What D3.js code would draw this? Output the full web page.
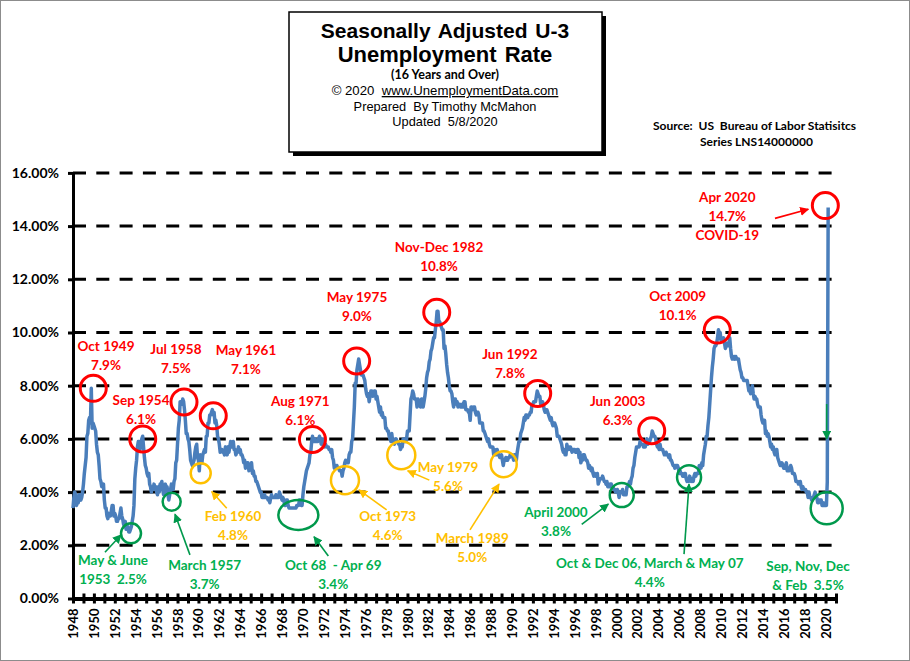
<!DOCTYPE html>
<html><head><meta charset="utf-8">
<script src="https://cdn.jsdelivr.net/npm/d3@7"></script>
<style>
body{margin:0;background:#fff}
svg{display:block}
text{white-space:pre}
</style></head><body>
<svg id="chart" width="910" height="661"></svg>
<script>
// ---------------- DATA ----------------
const startYear = 1948;
// Seasonally adjusted U-3 unemployment rate, monthly (Jan..Dec), 1948 - Apr 2020
const rates = [
[3.4,3.8,4.0,3.9,3.5,3.6,3.6,3.9,3.8,3.7,3.8,4.0],
[4.3,4.7,5.0,5.3,6.1,6.2,6.7,6.8,6.6,7.9,6.4,6.6],
[6.5,6.4,6.3,5.8,5.5,5.4,5.0,4.5,4.4,4.2,4.2,4.3],
[3.7,3.4,3.4,3.1,3.0,3.2,3.1,3.1,3.3,3.5,3.5,3.1],
[3.2,3.1,2.9,2.9,3.0,3.0,3.2,3.4,3.1,3.0,2.8,2.7],
[2.9,2.6,2.6,2.7,2.5,2.5,2.6,2.7,2.9,3.1,3.5,4.5],
[4.9,5.2,5.7,5.9,5.9,5.6,5.8,6.0,6.1,5.7,5.3,5.0],
[4.9,4.7,4.6,4.7,4.3,4.2,4.0,4.2,4.1,4.3,4.2,4.2],
[4.0,3.9,4.2,4.0,4.3,4.3,4.4,4.1,3.9,3.9,4.3,4.2],
[4.2,3.9,3.7,3.9,4.1,4.3,4.2,4.1,4.4,4.5,5.1,5.2],
[5.8,6.4,6.7,7.4,7.4,7.3,7.5,7.4,7.1,6.7,6.2,6.2],
[6.0,5.9,5.6,5.2,5.1,5.0,5.1,5.2,5.5,5.7,5.8,5.3],
[5.2,4.8,5.4,5.2,5.1,5.4,5.5,5.6,5.5,6.1,6.1,6.6],
[6.6,6.9,6.9,7.0,7.1,6.9,7.0,6.6,6.7,6.5,6.1,6.0],
[5.8,5.5,5.6,5.6,5.5,5.5,5.4,5.7,5.6,5.4,5.7,5.5],
[5.7,5.9,5.7,5.7,5.9,5.6,5.6,5.4,5.5,5.5,5.7,5.5],
[5.6,5.4,5.4,5.3,5.1,5.2,4.9,5.0,5.1,5.1,4.8,5.0],
[4.9,5.1,4.7,4.8,4.6,4.6,4.4,4.4,4.3,4.2,4.1,4.0],
[4.0,3.8,3.8,3.8,3.9,3.8,3.8,3.8,3.7,3.7,3.6,3.8],
[3.9,3.8,3.8,3.8,3.8,3.9,3.8,3.8,3.8,4.0,3.9,3.8],
[3.7,3.8,3.7,3.5,3.5,3.7,3.7,3.5,3.4,3.4,3.4,3.4],
[3.4,3.4,3.4,3.4,3.4,3.5,3.5,3.5,3.7,3.7,3.5,3.5],
[3.9,4.2,4.4,4.6,4.8,4.9,5.0,5.1,5.4,5.5,5.9,6.1],
[5.9,5.9,6.0,5.9,5.9,5.9,6.0,6.1,6.0,5.8,6.0,6.0],
[5.8,5.7,5.8,5.7,5.7,5.7,5.6,5.6,5.5,5.6,5.3,5.2],
[4.9,5.0,4.9,5.0,4.9,4.9,4.8,4.8,4.8,4.6,4.8,4.9],
[5.1,5.2,5.1,5.1,5.1,5.4,5.5,5.5,5.9,6.0,6.6,7.2],
[8.1,8.1,8.6,8.8,9.0,8.8,8.6,8.4,8.4,8.4,8.3,8.2],
[7.9,7.7,7.6,7.7,7.4,7.6,7.8,7.8,7.6,7.7,7.8,7.8],
[7.5,7.6,7.4,7.2,7.0,7.2,6.9,7.0,6.8,6.8,6.8,6.4],
[6.4,6.3,6.3,6.1,6.0,5.9,6.2,5.9,6.0,5.8,5.9,6.0],
[5.9,5.9,5.8,5.8,5.6,5.7,5.7,6.0,5.9,6.0,5.9,6.0],
[6.3,6.3,6.3,6.9,7.5,7.6,7.8,7.7,7.5,7.5,7.5,7.2],
[7.5,7.4,7.4,7.2,7.5,7.5,7.2,7.4,7.6,7.9,8.3,8.5],
[8.6,8.9,9.0,9.3,9.4,9.6,9.8,9.8,10.1,10.4,10.8,10.8],
[10.4,10.4,10.3,10.2,10.1,10.1,9.4,9.5,9.2,8.8,8.5,8.3],
[8.0,7.8,7.8,7.7,7.4,7.2,7.5,7.5,7.3,7.4,7.2,7.3],
[7.3,7.2,7.2,7.3,7.2,7.4,7.4,7.1,7.1,7.1,7.0,7.0],
[6.7,7.2,7.2,7.1,7.2,7.2,7.0,6.9,7.0,7.0,6.9,6.6],
[6.6,6.6,6.6,6.3,6.3,6.2,6.1,6.0,5.9,6.0,5.8,5.7],
[5.7,5.7,5.7,5.4,5.6,5.4,5.4,5.6,5.4,5.4,5.3,5.3],
[5.4,5.2,5.0,5.2,5.2,5.3,5.2,5.2,5.3,5.3,5.4,5.4],
[5.4,5.3,5.2,5.4,5.4,5.2,5.5,5.7,5.9,5.9,6.2,6.3],
[6.4,6.6,6.8,6.7,6.9,6.9,6.8,6.9,6.9,7.0,7.0,7.3],
[7.3,7.4,7.4,7.4,7.6,7.8,7.7,7.6,7.6,7.3,7.4,7.4],
[7.3,7.1,7.0,7.1,7.1,7.0,6.9,6.8,6.7,6.8,6.6,6.5],
[6.6,6.6,6.5,6.4,6.1,6.1,6.1,6.0,5.9,5.8,5.6,5.5],
[5.6,5.4,5.4,5.8,5.6,5.6,5.7,5.7,5.6,5.5,5.6,5.6],
[5.6,5.5,5.5,5.6,5.6,5.3,5.5,5.1,5.2,5.2,5.4,5.4],
[5.3,5.2,5.2,5.1,4.9,5.0,4.9,4.8,4.9,4.7,4.6,4.7],
[4.6,4.6,4.7,4.3,4.4,4.5,4.5,4.5,4.6,4.5,4.4,4.4],
[4.3,4.4,4.2,4.3,4.2,4.3,4.3,4.2,4.2,4.1,4.1,4.0],
[4.0,4.1,4.0,3.8,4.0,4.0,4.0,4.1,3.9,3.9,3.9,3.9],
[4.2,4.2,4.3,4.4,4.3,4.5,4.6,4.9,5.0,5.3,5.5,5.7],
[5.7,5.7,5.7,5.9,5.8,5.8,5.8,5.7,5.7,5.7,5.9,6.0],
[5.8,5.9,5.9,6.0,6.1,6.3,6.2,6.1,6.1,6.0,5.8,5.7],
[5.7,5.6,5.8,5.6,5.6,5.6,5.5,5.4,5.4,5.5,5.4,5.4],
[5.3,5.4,5.2,5.2,5.1,5.0,5.0,4.9,5.0,5.0,5.0,4.9],
[4.7,4.8,4.7,4.7,4.6,4.6,4.7,4.7,4.5,4.4,4.5,4.4],
[4.6,4.5,4.4,4.5,4.4,4.6,4.7,4.6,4.7,4.7,4.7,5.0],
[5.0,4.9,5.1,5.0,5.4,5.6,5.8,6.1,6.1,6.5,6.8,7.3],
[7.8,8.3,8.7,9.0,9.4,9.5,9.5,9.6,9.8,10.1,10.0,10.0],
[9.7,9.7,9.7,9.8,9.6,9.4,9.5,9.6,9.5,9.5,9.8,9.4],
[9.1,9.0,9.0,9.1,9.0,9.1,9.0,9.0,9.0,8.8,8.6,8.5],
[8.3,8.3,8.2,8.2,8.2,8.2,8.2,8.0,7.8,7.8,7.7,7.9],
[8.0,7.7,7.5,7.6,7.5,7.5,7.3,7.2,7.2,7.2,6.9,6.7],
[6.6,6.7,6.7,6.2,6.3,6.1,6.2,6.1,5.9,5.7,5.8,5.6],
[5.7,5.5,5.4,5.4,5.6,5.3,5.2,5.1,5.0,5.0,5.1,5.0],
[4.9,4.9,5.0,5.1,4.8,4.9,4.8,4.9,5.0,4.9,4.7,4.7],
[4.7,4.6,4.4,4.4,4.4,4.3,4.3,4.4,4.2,4.1,4.2,4.1],
[4.1,4.1,4.0,4.0,3.8,4.0,3.8,3.8,3.7,3.8,3.8,3.9],
[4.0,3.8,3.8,3.6,3.6,3.7,3.7,3.7,3.5,3.6,3.5,3.5],
[3.6,3.5,4.4,14.7]
];
const yTickValues = [0, 2, 4, 6, 8, 10, 12, 14, 16];
const gridValues = [2, 4, 6, 8, 10, 12, 14, 16];
const tickYears = d3.range(1948, 2022);

const titleLines = ["Seasonally Adjusted U-3", "Unemployment Rate"];
const subtitle = "(16 Years and Over)";
const creditLines = ["© 2020  ", "www.UnemploymentData.com", "Prepared  By Timothy McMahon", "Updated  5/8/2020"];
const sourceLines = ["Source:  US  Bureau of Labor Statisitcs", "Series LNS14000000"];

// annotations (positions in data units: year, percent)
const redLabels = [
  {lines:["Oct 1949","7.9%"], t:1951.16, v:9.47},
  {lines:["Sep 1954","6.1%"], t:1954.51, v:7.46},
  {lines:["Jul 1958","7.5%"], t:1957.85, v:9.38},
  {lines:["May 1961","7.1%"], t:1964.55, v:9.34},
  {lines:["Aug 1971","6.1%"], t:1969.75, v:7.42},
  {lines:["May 1975","9.0%"], t:1975.17, v:11.31},
  {lines:["Nov-Dec 1982","10.8%"], t:1983.02, v:13.20},
  {lines:["Jun 1992","7.8%"], t:1989.81, v:9.19},
  {lines:["Jun 2003","6.3%"], t:2000.11, v:7.40},
  {lines:["Oct 2009","10.1%"], t:2005.85, v:11.35},
  {lines:["Apr 2020","14.7%","COVID-19"], t:2010.60, v:15.07}
];
const yellowLabels = [
  {lines:["Feb 1960","4.8%"], t:1963.31, v:3.08},
  {lines:["Oct 1973","4.6%"], t:1978.11, v:3.10},
  {lines:["May 1979","5.6%"], t:1983.88, v:4.95},
  {lines:["March 1989","5.0%"], t:1986.20, v:2.25}
];
const greenLabels = [
  {lines:["May & June","1953  2.5%"], t:1951.83, v:1.45},
  {lines:["March 1957","3.7%"], t:1960.60, v:1.26},
  {lines:["Oct 68  - Apr 69","3.4%"], t:1972.90, v:1.26},
  {lines:["April 2000","3.8%"], t:1994.21, v:3.24},
  {lines:["Oct & Dec 06, March & May 07","4.4%"], t:2003.18, v:1.32},
  {lines:["Sep, Nov, Dec","& Feb  3.5%"], t:2018.32, v:1.23}
];
const redCircles = [
  {t:1949.94, v:7.90}, {t:1954.67, v:6.00}, {t:1958.62, v:7.39}, {t:1961.42, v:6.87},
  {t:1970.91, v:5.98}, {t:1975.14, v:8.93}, {t:1982.80, v:10.76}, {t:1992.46, v:7.71},
  {t:2003.37, v:6.31}, {t:2009.64, v:10.09}, {t:2019.98, v:14.77}
];
const yellowCircles = [
  {t:1960.22, v:4.71, r:10}, {t:1974.02, v:4.45, r:14}, {t:1979.41, v:5.39, r:14}, {t:1989.21, v:5.05, r:13}
];
const greenCircles = [
  {t:1953.55, v:2.45, rx:10, ry:10}, {t:1957.44, v:3.64, rx:9, ry:9}, {t:1969.56, v:3.14, rx:20, ry:15},
  {t:2000.50, v:3.89, rx:12, ry:12}, {t:2006.94, v:4.56, rx:12, ry:12}, {t:2020.11, v:3.39, rx:16, ry:16}
];
const redArrows = [ {t1:2015.16, v1:14.29, t2:2018.35, v2:14.63} ];
const yellowArrows = [
  {t1:1962.71, v1:3.39, t2:1961.27, v2:4.02},
  {t1:1978.01, v1:3.33, t2:1975.36, v2:4.08},
  {t1:1982.09, v1:4.45, t2:1980.02, v2:4.80},
  {t1:1985.98, v1:2.58, t2:1988.76, v2:4.30}
];
const greenArrows = [
  {t1:1951.06, v1:1.74, t2:1952.59, v2:2.39},
  {t1:1959.19, v1:1.64, t2:1957.76, v2:3.17},
  {t1:1972.43, v1:1.60, t2:1971.06, v2:2.32},
  {t1:1996.67, v1:2.79, t2:1999.22, v2:3.55},
  {t1:2006.46, v1:1.67, t2:2006.94, v2:4.30},
  {t1:2020.11, v1:7.31, t2:2020.11, v2:6.00}
];

// ---------------- DRAW ----------------
const svg = d3.select("#chart");
const RED = "#ff0000", YEL = "#ffc000", GRN_T = "#00b050", GRN = "#00994c", BLUE = "#4a7ebb";
const LBL_FONT = "Lato, 'Open Sans', sans-serif";
const ARIAL = "'Liberation Sans', Arial, sans-serif";

svg.append("rect").attr("x",0.5).attr("y",0.5).attr("width",909).attr("height",660)
  .attr("fill","#fff").attr("stroke","#8c8c8c").attr("stroke-width",1);

const x = d3.scaleLinear().domain([1948, 2021]).range([73, 836]);
const y = d3.scaleLinear().domain([0, 16]).range([598.5, 172.9]);

// markers
const defs = svg.append("defs");
[["r",RED],["yl",YEL],["g",GRN]].forEach(([id,c]) => {
  defs.append("marker").attr("id","ah-"+id).attr("viewBox","0 0 10 10").attr("refX",9).attr("refY",5)
    .attr("markerWidth",9).attr("markerHeight",9).attr("markerUnits","userSpaceOnUse")
    .attr("orient","auto").append("path").attr("d","M0,0 L10,5 L0,10 z").attr("fill",c);
});

// gridlines
svg.append("g").selectAll("line").data(gridValues).join("line")
  .attr("x1", x(1948)).attr("x2", x(2021)).attr("y1", d => y(d)).attr("y2", d => y(d))
  .attr("stroke","#000").attr("stroke-width",3).attr("stroke-dasharray","13,10.3");

// title box
const bx = 289, by = 12, bw = 313, bh = 140;
svg.append("rect").attr("x",bx+4).attr("y",by+4).attr("width",bw).attr("height",bh).attr("fill","#000");
svg.append("rect").attr("x",bx).attr("y",by).attr("width",bw).attr("height",bh).attr("fill","#fff")
  .attr("stroke","#000").attr("stroke-width",1.5);
const cx = 445;
svg.append("text").attr("x",cx).attr("y",37.5).attr("text-anchor","middle").attr("font-family",ARIAL)
  .attr("font-weight","bold").attr("font-size",21).attr("word-spacing",2).text(titleLines[0]);
svg.append("text").attr("x",cx).attr("y",62).attr("text-anchor","middle").attr("font-family",ARIAL)
  .attr("font-weight","bold").attr("font-size",22).attr("word-spacing",2).text(titleLines[1]);
svg.append("text").attr("x",cx).attr("y",79).attr("text-anchor","middle").attr("font-family",LBL_FONT)
  .attr("font-weight","bold").attr("font-size",12.5).text(subtitle);
const cr = svg.append("text").attr("x",cx).attr("y",95).attr("text-anchor","middle").attr("font-family",ARIAL)
  .attr("font-size",13.2);
cr.append("tspan").text(creditLines[0]);
cr.append("tspan").attr("text-decoration","underline").text(creditLines[1]);
svg.append("text").attr("x",cx).attr("y",111).attr("text-anchor","middle").attr("font-family",ARIAL)
  .attr("font-size",12.8).text(creditLines[2]);
svg.append("text").attr("x",cx).attr("y",126).attr("text-anchor","middle").attr("font-family",ARIAL)
  .attr("font-size",12.8).text(creditLines[3]);

// source
svg.append("text").attr("x",653).attr("y",129.5).attr("font-family",LBL_FONT).attr("font-weight","bold")
  .attr("font-size",12).text(sourceLines[0]);
svg.append("text").attr("x",700).attr("y",145.5).attr("font-family",LBL_FONT).attr("font-weight","bold")
  .attr("font-size",12).text(sourceLines[1]);

// axes
const yAxis = d3.axisLeft(y).tickValues(yTickValues).tickFormat(d => d.toFixed(2) + "%").tickSizeInner(5).tickSizeOuter(0).tickPadding(9);
const gy = svg.append("g").attr("transform",`translate(${x(1948)},0)`).call(yAxis);
gy.select(".domain").attr("stroke","#000").attr("stroke-width",3);
gy.selectAll(".tick line").attr("stroke","#000").attr("stroke-width",3);
gy.selectAll(".tick text").attr("font-family",LBL_FONT).attr("font-weight","bold").attr("font-size",14).attr("fill","#000");

const xAxis = d3.axisBottom(x).tickValues(tickYears).tickFormat(d => (d % 2 === 0 && d <= 2020) ? String(d) : "")
  .tickSizeInner(5).tickSizeOuter(0);
const gx = svg.append("g").attr("transform",`translate(0,${y(0)})`).call(xAxis);
gx.select(".domain").attr("stroke","#000").attr("stroke-width",4);
gx.selectAll(".tick line").attr("stroke","#000").attr("stroke-width",3).attr("y1",-5).attr("y2",5);
gx.selectAll(".tick text").attr("font-family",LBL_FONT).attr("font-weight","bold").attr("font-size",13).attr("fill","#000")
  .attr("transform","rotate(-90)").attr("text-anchor","end").attr("dy","0.35em").attr("x",-10).attr("y",0);

// series
const points = [];
rates.forEach((row, i) => row.forEach((v, m) => points.push({t: startYear + i + m/12, v})));
svg.append("path").datum(points).attr("fill","none").attr("stroke",BLUE).attr("stroke-width",3.5)
  .attr("stroke-linejoin","round")
  .attr("d", d3.line().x(d => x(d.t)).y(d => y(d.v)));

// circles
svg.append("g").selectAll("circle").data(redCircles).join("circle")
  .attr("cx", d => x(d.t)).attr("cy", d => y(d.v)).attr("r", 13)
  .attr("fill","none").attr("stroke",RED).attr("stroke-width",3);
svg.append("g").selectAll("circle").data(yellowCircles).join("circle")
  .attr("cx", d => x(d.t)).attr("cy", d => y(d.v)).attr("r", d => d.r)
  .attr("fill","none").attr("stroke",YEL).attr("stroke-width",2.5);
svg.append("g").selectAll("ellipse").data(greenCircles).join("ellipse")
  .attr("cx", d => x(d.t)).attr("cy", d => y(d.v)).attr("rx", d => d.rx).attr("ry", d => d.ry)
  .attr("fill","none").attr("stroke",GRN).attr("stroke-width",2.5);

// arrows
function arrows(data, color, id) {
  svg.append("g").selectAll("line").data(data).join("line")
    .attr("x1", d => x(d.t1)).attr("y1", d => y(d.v1)).attr("x2", d => x(d.t2)).attr("y2", d => y(d.v2))
    .attr("stroke", color).attr("stroke-width", 1.6).attr("marker-end", `url(#ah-${id})`);
}
arrows(redArrows, RED, "r");
arrows(yellowArrows, YEL, "yl");
arrows(greenArrows, GRN, "g");

// labels
function labels(data, color) {
  const g = svg.append("g");
  data.forEach(d => {
    d.lines.forEach((ln, i) => {
      g.append("text").attr("x", x(d.t)).attr("y", y(d.v) + i*19).attr("dy","0.35em")
        .attr("text-anchor","middle").attr("font-family",LBL_FONT).attr("font-weight","bold")
        .attr("font-size",13.5).attr("fill",color).text(ln);
    });
  });
}
labels(redLabels, RED);
labels(yellowLabels, YEL);
labels(greenLabels, GRN_T);
</script>
</body></html>
